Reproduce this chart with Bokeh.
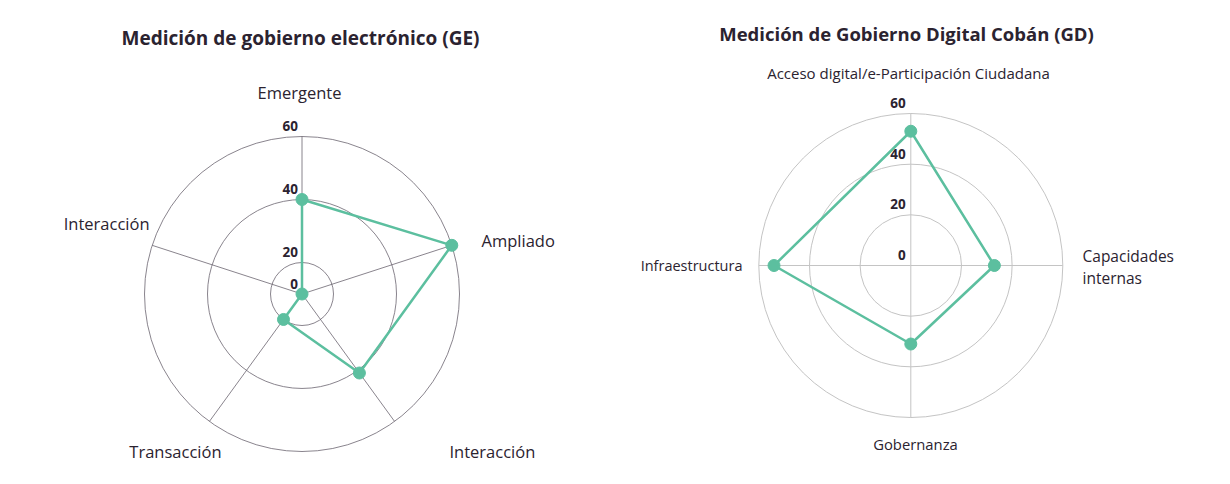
import numpy as np
from bokeh.plotting import figure
from bokeh.models import Range1d
from bokeh.core.properties import value
from bokeh.embed import file_html
from bokeh.resources import INLINE

# ---------------- data ----------------
ge_title = "Medición de gobierno electrónico (GE)"
ge_categories = ["Emergente", "Ampliado", "Interacción", "Transacción", "Interacción"]
ge_values = [40, 60, 41, 20, 0]
ge_ticks = [0, 20, 40, 60]
ge_tick_labels = ["0", "20", "40", "60"]

gd_title = "Medición de Gobierno Digital Cobán (GD)"
gd_categories = ["Acceso digital/e-Participación Ciudadana", "Capacidades\ninternas",
                 "Gobernanza", "Infraestructura"]
gd_values = [53, 33, 31, 54]
gd_ticks = [0, 20, 40, 60]
gd_tick_labels = ["0", "20", "40", "60"]

# ---------------- layout / style ----------------
W, H = 1214, 468
GREEN = "#5cbf9f"
TEXT = "#2b2330"
FONT_V = value("Open Sans")

p = figure(width=W, height=H, output_backend="svg", toolbar_location=None,
           x_range=Range1d(0, W), y_range=Range1d(H, 0),
           min_border=0, outline_line_color=None)
p.axis.visible = False
p.grid.visible = False
p.background_fill_color = "white"
p.border_fill_color = "white"


def polar(cx, cy, r, ang_deg):
    a = np.radians(ang_deg)
    return cx + r * np.cos(a), cy - r * np.sin(a)


def radar(cx, cy, ticks, tick_radii, values, n, grid_color, grid_width, tick_labels,
          tick_x_off, tick_font):
    ticks = np.array(ticks, float)
    tick_radii = np.array(tick_radii, float)
    R = tick_radii[-1]
    angles = 90 - 360.0 / n * np.arange(n)
    # rings
    for r in tick_radii:
        if r > 0:
            p.circle(x=[cx], y=[cy], radius=r, fill_color=None,
                     line_color=grid_color, line_width=grid_width)
    # spokes
    ex, ey = polar(cx, cy, R, angles)
    p.segment(x0=[cx] * n, y0=[cy] * n, x1=list(ex), y1=list(ey),
              line_color=grid_color, line_width=grid_width)
    # tick labels
    ly = [cy - r - 10.5 for r in tick_radii]
    p.text(x=[cx + tick_x_off] * len(ticks), y=ly, text=tick_labels,
           text_font=FONT_V, text_font_size=tick_font, text_font_style="bold",
           text_color=TEXT, text_align="right", text_baseline="middle")
    # data polygon
    rv = np.interp(values, ticks, tick_radii)
    px, py = polar(cx, cy, rv, angles)
    xs = list(px) + [px[0]]
    ys = list(py) + [py[0]]
    p.line(xs, ys, line_color=GREEN, line_width=2.5)
    p.scatter(list(px), list(py), size=12, fill_color=GREEN, line_color=GREEN)


# left radar (GE)
radar(301.5, 293.5, ge_ticks, [0, 31.5, 94.5, 157.5], ge_values, 5,
      "#6b6570", 0.8, ge_tick_labels, -4, "13.5px")
# right radar (GD)
radar(910.3, 265, gd_ticks, [0, 50.7, 101.3, 152], gd_values, 4,
      "#c4c4c4", 1.0, gd_tick_labels, -5, "13.5px")

# titles
p.text(x=[300, 906], y=[37, 33], text=[ge_title, gd_title], text_font=FONT_V,
       text_font_size=["19px", "18.5px"], text_font_style="bold", text_color=TEXT,
       text_align="center", text_baseline="middle")

# category labels GE
ge_lx = [299, 481, 449, 221, 149]
ge_ly = [92, 240, 451, 451, 223]
ge_al = ["center", "left", "left", "right", "right"]
for t, x, y, a in zip(ge_categories, ge_lx, ge_ly, ge_al):
    p.text(x=[x], y=[y], text=[t], text_font=FONT_V, text_font_size="16.5px",
           text_color=TEXT, text_align=a, text_baseline="middle")

# category labels GD
gd_lx = [908, 1082, 915, 742]
gd_ly = [72, 266, 443, 265]
gd_al = ["center", "left", "center", "right"]
gd_fs = ["15px", "15.5px", "14.8px", "14.5px"]
for t, x, y, a, fs in zip(gd_categories, gd_lx, gd_ly, gd_al, gd_fs):
    p.text(x=[x], y=[y], text=[t], text_font=FONT_V, text_font_size=fs,
           text_color=TEXT, text_align=a, text_baseline="middle",
           text_line_height=1.0)

open("out.html", "w").write(file_html(p, INLINE))
